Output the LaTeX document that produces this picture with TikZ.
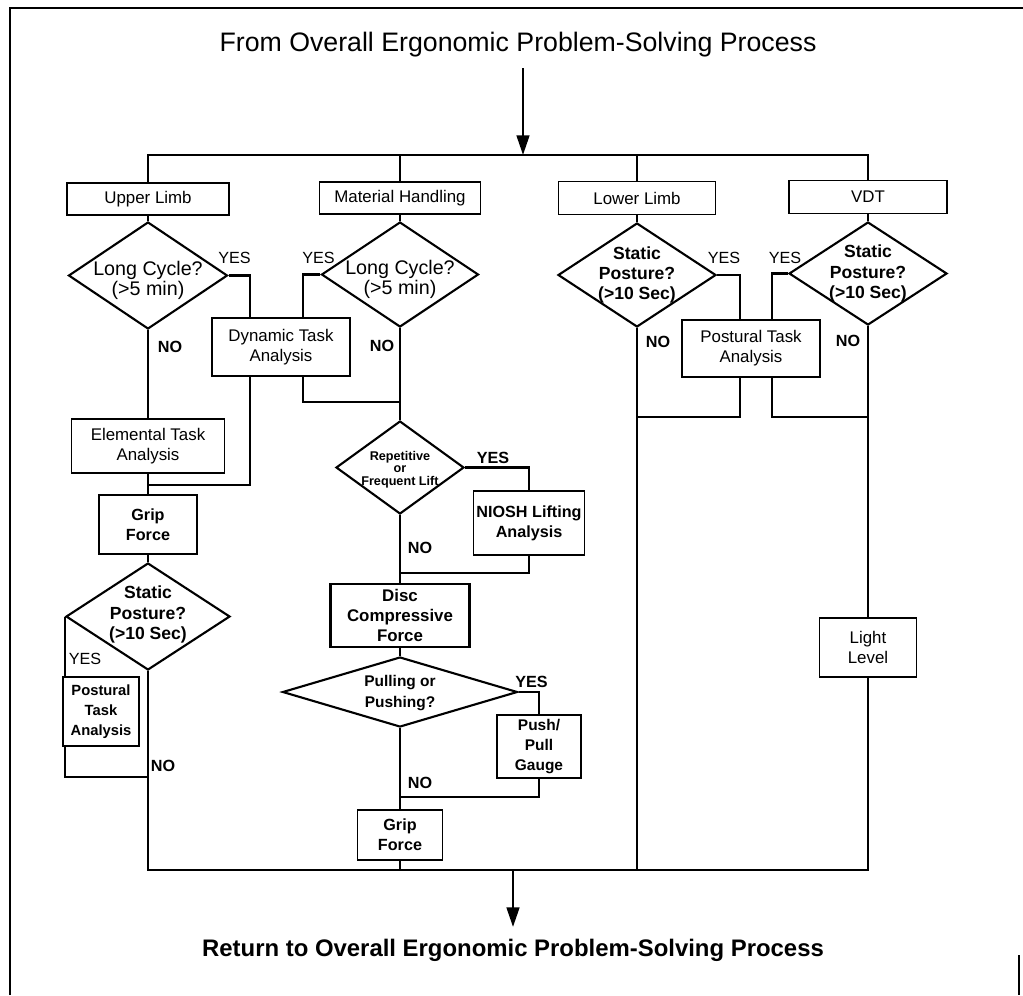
\documentclass[tikz,border=0pt]{standalone}
\usepackage{fontspec}
\setmainfont{Liberation Sans}
\usetikzlibrary{shapes.geometric,arrows.meta,calc}
\begin{document}
\begin{tikzpicture}[x=0.025cm,y=-0.025cm,
  wh/.style 2 args={minimum width=#1*0.025cm,minimum height=#2*0.025cm},
  bx/.style={draw,line width=1.3pt,inner sep=0pt,align=center,font=\fontsize{12}{14.2}\selectfont},
  bxb/.style={bx,font=\bfseries\fontsize{11.5}{14.2}\selectfont},
  dm/.style={draw,diamond,line width=1.5pt,inner sep=0pt},
  dtr/.style={inner sep=0pt,align=center,font=\fontsize{14}{14.2}\selectfont},
  dtb/.style={inner sep=0pt,align=center,font=\bfseries\fontsize{12.5}{14.5}\selectfont},
  ln/.style={line width=1.9pt},
  arr/.style={line width=1.9pt,-{Triangle[length=14pt,width=9pt]}},
  yl/.style={inner sep=0pt,font=\fontsize{11.5}{13}\selectfont},
  ylb/.style={inner sep=0pt,font=\bfseries\fontsize{11.5}{13}\selectfont}]
\useasboundingbox (0,0) rectangle (1023,995);
% frame
\draw[line width=0.8pt] (10,995) -- (10,8) -- (1023,8);
\draw[line width=0.8pt] (1019,955) -- (1019,995);
% titles
\node[inner sep=0pt,font=\fontsize{19}{22}\selectfont] (title) at (518,45) {From Overall Ergonomic Problem-Solving Process};
\node[inner sep=0pt,font=\bfseries\fontsize{17}{20}\selectfont] (ret) at (513,950) {Return to Overall Ergonomic Problem-Solving Process};
\coordinate (ta) at (523,68);
\coordinate (tb) at (523,155);
\coordinate (ba) at (513,870);
\coordinate (bb) at (513,927);
% category boxes
\node[bx,wh={162}{32}] (ul) at (148,199) {Upper Limb};
\node[bx,wh={161}{32}] (mh) at (400,198) {Material Handling};
\node[bx,wh={157}{33}] (ll) at (637,198) {Lower Limb};
\node[bx,wh={158}{33}] (vdt) at (868,197) {VDT};
% diamonds
\node[dm,wh={159}{107}] (d1) at (148,275.5) {};
\node[dm,wh={157}{105}] (d2) at (400,274.5) {};
\node[dm,wh={158}{104}] (d3) at (637,275) {};
\node[dm,wh={158}{103}] (d4) at (868,273.5) {};
\node[dm,wh={128}{93}] (d5) at (400,467.5) {};
\node[dm,wh={164}{107}] (d6) at (148,616.5) {};
\node[dm,wh={235}{70}] (d7) at (400,692) {};
\node[dtr] (d1t) at ($(d1)+(0,5)$) {Long Cycle?\\(>5 min)};
\node[dtr] (d2t) at ($(d2)+(0,5)$) {Long Cycle?\\(>5 min)};
\node[dtb] (d3t) at (d3) {Static\\Posture?\\(>10 Sec)};
\node[dtb] (d4t) at (d4) {Static\\Posture?\\(>10 Sec)};
\node[dtb] (d6t) at ($(d6)+(0,-2)$) {Static\\Posture?\\(>10 Sec)};
\node[inner sep=0pt,align=center,font=\bfseries\fontsize{9}{9}\selectfont] (d5t) at ($(d5)+(0,2)$) {Repetitive\\or\\Frequent Lift};
\node[inner sep=0pt,align=center,font=\bfseries\fontsize{11}{14.5}\selectfont] (d7t) at ($(d7)+(0,1)$) {Pulling or\\Pushing?};
% process boxes
\node[bx,wh={138}{58}] (dta) at (281,347) {Dynamic Task\\Analysis};
\node[bx,wh={153}{54}] (eta) at (148,446) {Elemental Task\\Analysis};
\node[bxb,wh={98}{59}] (gf1) at (148,524.5) {Grip\\Force};
\node[bxb,wh={76}{69},font=\bfseries\fontsize{10.5}{14.2}\selectfont] (pta1) at (101,711.5) {Postural\\Task\\Analysis};
\node[bxb,wh={111}{64}] (nio) at (529,523) {NIOSH Lifting\\Analysis};
\node[bxb,wh={139}{63},line width=2pt,font=\bfseries\fontsize{12}{14.2}\selectfont] (dcf) at (400,615.5) {Disc\\Compressive\\Force};
\node[bxb,wh={84}{63},font=\bfseries\fontsize{11}{14.2}\selectfont] (ppg) at (539,746.5) {Push/\\Pull\\Gauge};
\node[bxb,wh={85}{50}] (gf2) at (400,835) {Grip\\Force};
\node[bx,wh={138}{57}] (pta2) at (751,348.5) {Postural Task\\Analysis};
\node[bx,wh={97}{59}] (llv) at (868,647.5) {Light\\Level};
% junctions
\coordinate (j1) at (148,485);
\coordinate (j2) at (400,402);
\coordinate (j3) at (148,777);
\coordinate (j4) at (400,573);
\coordinate (j5) at (400,797);
\coordinate (j6) at (637,417);
\coordinate (j7) at (868,417);
\coordinate (bl) at (148,870);
\coordinate (br) at (868,870);
% connectors
\draw[arr] (ta) -- (tb);
\draw[ln] (ul.north) -- (ul.north |- tb) -- (vdt.north |- tb) -- (vdt.north);
\draw[ln] (mh.north) -- (mh.north |- tb);
\draw[ln] (ll.north) -- (ll.north |- tb);
\draw[ln] (ul.south) -- (d1.north);
\draw[ln] (mh.south) -- (d2.north);
\draw[ln] (ll.south) -- (d3.north);
\draw[ln] (vdt.south) -- (d4.north);
\draw[ln] (d1.east) -| ($(dta.north)+(-31,0)$);
\draw[ln] (d2.west) -| ($(dta.north)+(22,0)$);
\draw[ln] ($(dta.south)+(-31,0)$) |- (j1);
\draw[ln] ($(dta.south)+(22,0)$) |- (j2);
\draw[ln] (d1.south) -- (eta.north);
\draw[ln] (eta.south) -- (gf1.north);
\draw[ln] (gf1.south) -- (d6.north);
\draw[ln] (d6.west) -- (d6.west |- pta1.north);
\draw[ln] (pta1.south -| d6.west) |- (j3);
\draw[ln] (d6.south) -- (bl) -- (br) -- (llv.south);
\draw[ln] (d2.south) -- (d5.north);
\draw[ln] (d5.east) -| (nio.north);
\draw[ln] (nio.south) |- (j4);
\draw[ln] (d5.south) -- (dcf.north);
\draw[ln] (dcf.south) -- (d7.north);
\draw[ln] (d7.east) -| (ppg.north);
\draw[ln] (ppg.south) |- (j5);
\draw[ln] (d7.south) -- (gf2.north);
\draw[ln] (gf2.south) -- (gf2.south |- bl);
\draw[ln] (d3.east) -| ($(pta2.north)+(-11,0)$);
\draw[ln] (d4.west) -| ($(pta2.north)+(21,0)$);
\draw[ln] ($(pta2.south)+(-11,0)$) |- (j6);
\draw[ln] ($(pta2.south)+(21,0)$) |- (j7);
\draw[ln] (d3.south) -- (d3.south |- bl);
\draw[ln] (d4.south) -- (llv.north);
\draw[arr] (ba) -- (bb);
% labels
\node[yl] (y1) at ($(d1.east)+(6,-18)$) {YES};
\node[yl] (y2) at ($(d2.west)+(-2,-17)$) {YES};
\node[yl] (y3) at ($(d3.east)+(7,-17)$) {YES};
\node[yl] (y4) at ($(d4.west)+(-3,-16)$) {YES};
\node[yl] (y5) at ($(d6.west)+(20,42)$) {YES};
\node[ylb] (y6) at ($(d5.east)+(28,-10)$) {YES};
\node[ylb] (y7) at ($(d7.east)+(13,-10)$) {YES};
\node[ylb] (n1) at ($(d1.south)+(22,17)$) {NO};
\node[ylb] (n2) at ($(d2.south)+(-18,18)$) {NO};
\node[ylb] (n3) at ($(d3.south)+(21,14)$) {NO};
\node[ylb] (n4) at ($(d4.south)+(-20,15)$) {NO};
\node[ylb] (n5) at ($(d5.south)+(20,33)$) {NO};
\node[ylb] (n6) at ($(d7.south)+(20,55)$) {NO};
\node[ylb] (n7) at ($(d6.south)+(15,95)$) {NO};
\end{tikzpicture}
\end{document}
